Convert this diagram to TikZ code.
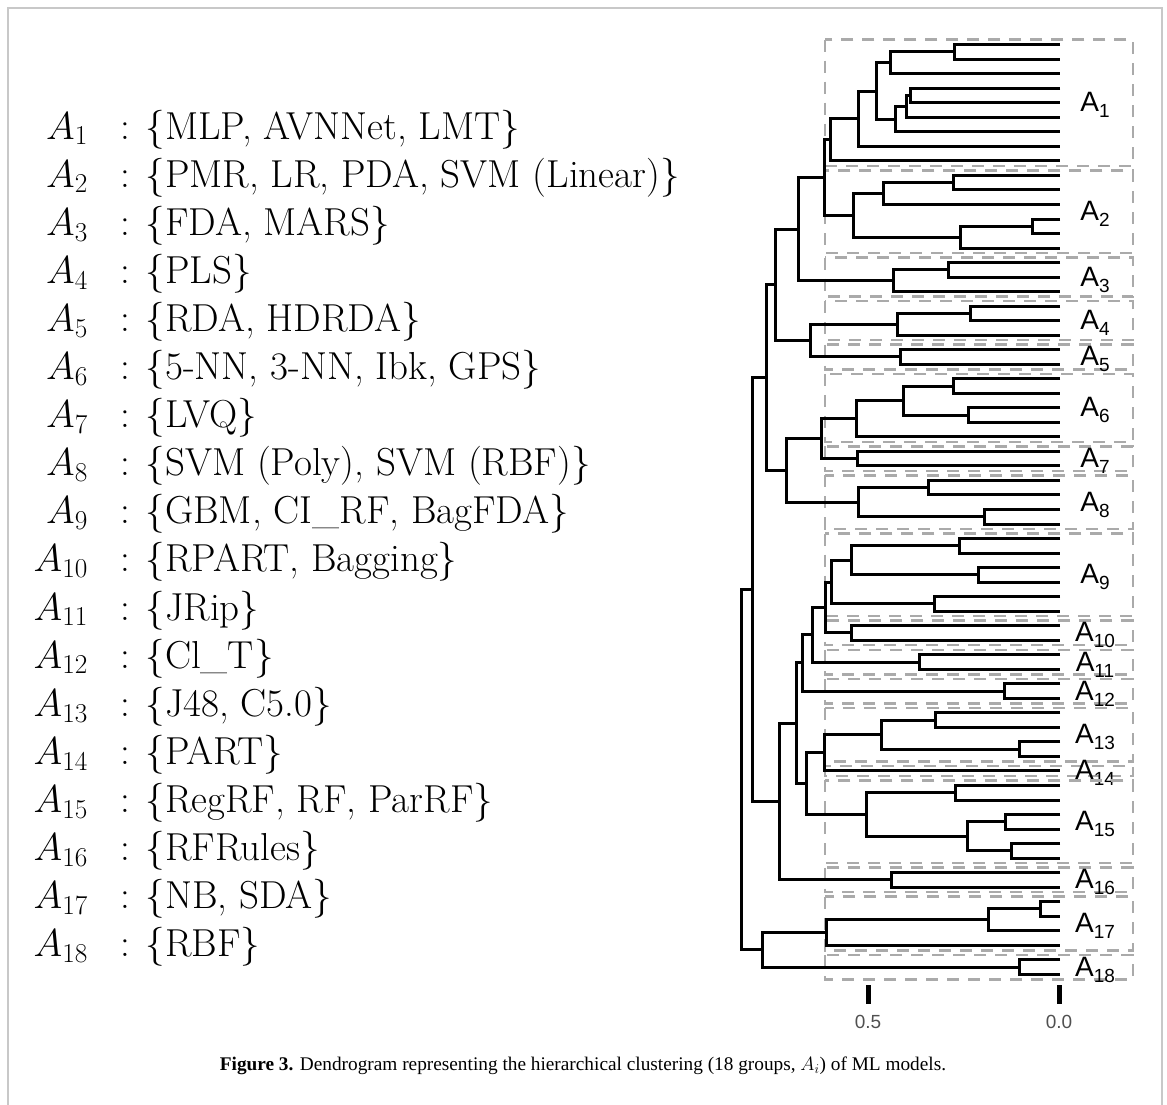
\RequirePackage{fix-cm}
\documentclass[tikz,border=0pt]{standalone}
\usepackage{fontspec}
\newfontfamily\grpfont{Liberation Sans}
\newfontfamily\capfont{Liberation Serif}
\usetikzlibrary{calc}

\definecolor{boxgray}{RGB}{170,170,170}
\definecolor{framegray}{RGB}{200,200,200}
\definecolor{axisgray}{RGB}{80,80,80}

% join two clusters at height #2
\newcommand{\merge}[4]{%
  \coordinate (mid) at ($(#3)!0.5!(#4)$);
  \coordinate (#1) at (#2,0 |- mid);
  \draw[branch] (#3) -| (#1) |- (#4);
}
% dashed box round leaves #2..#3 with label A_#1
\newcommand{\grpsub}[1]{\raisebox{-6pt}{\fontsize{19}{19}\selectfont #1}}
\newcommand{\grpbox}[3]{%
  \draw[grpline] ($(l#2)+(-235,-5)$) rectangle ($(l#3)+(73,5)$);
  \node[grplabel] (g#1) at ($(l#2)!0.5!(l#3)+(35,9)$) {A\grpsub{#1}};
}

\begin{document}
\begin{tikzpicture}[x=1pt, y=-1pt,
  branch/.style={line width=3pt, black},
  grpline/.style={line width=2.5pt, boxgray, dash pattern=on 12pt off 9pt},
  grplabel/.style={anchor=base, inner sep=0pt, font=\grpfont\fontsize{28}{28}\selectfont},
  tickmark/.style={line width=5pt, black},
  ticklabel/.style={inner sep=0pt, text=axisgray, font=\grpfont\fontsize{19}{19}\selectfont},
  rowlabel/.style={anchor=base east, inner sep=0pt, font=\fontsize{39}{45}\selectfont},
  rowtext/.style={anchor=base west, inner sep=0pt, font=\fontsize{39}{45}\selectfont},
  capstyle/.style={inner sep=0pt, font=\capfont\fontsize{19.3}{23}\selectfont}]

\useasboundingbox (0,0) rectangle (1167,1104);

% Frame
\draw[framegray, line width=2pt] (7.5,1120) -- (7.5,7.5) -- (1161.5,7.5) -- (1161.5,1120);

% Leaves
\foreach \i in {0,...,64}
  \coordinate (l\i) at (1060, {44.7+14.525*\i});

% Group boxes
\grpbox{1}{0}{8}
\grpbox{2}{9}{14}
\grpbox{3}{15}{17}
\grpbox{4}{18}{20}
\grpbox{5}{21}{22}
\grpbox{6}{23}{27}
\grpbox{7}{28}{29}
\grpbox{8}{30}{33}
\grpbox{9}{34}{39}
\grpbox{10}{40}{41}
\grpbox{11}{42}{43}
\grpbox{12}{44}{45}
\grpbox{13}{46}{49}
\grpbox{14}{50}{50}
\grpbox{15}{51}{56}
\grpbox{16}{57}{58}
\grpbox{17}{59}{62}
\grpbox{18}{63}{64}

% A1
\merge{a1}{954}{l0}{l1}
\merge{a2}{890.7}{a1}{l2}
\merge{a3}{910.7}{l3}{l4}
\merge{a4}{906.7}{a3}{l5}
\merge{a5}{895}{a4}{l6}
\merge{a6}{876.7}{a2}{a5}
\merge{a7}{858.3}{a6}{l7}
\merge{a8}{830}{a7}{l8}
% A2
\merge{b1}{953.3}{l9}{l10}
\merge{b2}{883.3}{b1}{l11}
\merge{b3}{1032.7}{l12}{l13}
\merge{b4}{960.7}{b3}{l14}
\merge{b5}{853.3}{b2}{b4}
\merge{c1}{824.3}{a8}{b5}
% A3
\merge{d1}{948.3}{l15}{l16}
\merge{d2}{893.3}{d1}{l17}
\merge{c2}{798.3}{c1}{d2}
% A4, A5
\merge{e1}{970.7}{l18}{l19}
\merge{e2}{897.7}{e1}{l20}
\merge{f1}{900}{l21}{l22}
\merge{e3}{810}{e2}{f1}
\merge{c3}{775.7}{c2}{e3}
% A6, A7, A8
\merge{g1}{953.3}{l23}{l24}
\merge{g2}{968.3}{l25}{l26}
\merge{g3}{903.3}{g1}{g2}
\merge{g4}{856}{g3}{l27}
\merge{h1}{857.7}{l28}{l29}
\merge{g5}{821.7}{g4}{h1}
\merge{i1}{928.3}{l30}{l31}
\merge{i2}{984.3}{l32}{l33}
\merge{i3}{858.3}{i1}{i2}
\merge{g6}{786.7}{g5}{i3}
\merge{c4}{766.7}{c3}{g6}
% A9 to A12
\merge{j1}{959}{l34}{l35}
\merge{j2}{978.3}{l36}{l37}
\merge{j3}{851}{j1}{j2}
\merge{j4}{934}{l38}{l39}
\merge{j5}{831.7}{j3}{j4}
\merge{k1}{851.7}{l40}{l41}
\merge{j6}{825}{j5}{k1}
\merge{m1}{919}{l42}{l43}
\merge{j7}{812.7}{j6}{m1}
\merge{n1}{1004.3}{l44}{l45}
\merge{j8}{802.7}{j7}{n1}
% A13 to A16
\merge{p1}{935}{l46}{l47}
\merge{p2}{1019.3}{l48}{l49}
\merge{p3}{881}{p1}{p2}
\merge{p4}{824.3}{p3}{l50}
\merge{q1}{955}{l51}{l52}
\merge{q2}{1005}{l53}{l54}
\merge{q3}{1011.7}{l55}{l56}
\merge{q4}{967.3}{q2}{q3}
\merge{q5}{866.7}{q1}{q4}
\merge{p5}{806.7}{p4}{q5}
\merge{j9}{796.7}{j8}{p5}
\merge{r1}{891}{l57}{l58}
\merge{j10}{779.3}{j9}{r1}
\merge{c5}{752.7}{c4}{j10}
% A17, A18
\merge{s1}{1040}{l59}{l60}
\merge{s2}{988.3}{s1}{l61}
\merge{s3}{826.7}{s2}{l62}
\merge{t1}{1019.3}{l63}{l64}
\merge{s4}{762.3}{s3}{t1}
% Root
\merge{root}{741.7}{c5}{s4}

% Axis
\draw[tickmark] (868,985) -- (868,1004);
\draw[tickmark] (1059,985) -- (1059,1004);
\node[ticklabel] (x05) at (868,1022) {0.5};
\node[ticklabel] (x00) at (1059,1022) {0.0};

% Groups list
\foreach \i/\txt in {1/{MLP, AVNNet, LMT}, 2/{PMR, LR, PDA, SVM (Linear)},
    3/{FDA, MARS}, 4/{PLS}, 5/{RDA, HDRDA}, 6/{5-NN, 3-NN, Ibk, GPS},
    7/{LVQ}, 8/{SVM (Poly), SVM (RBF)}, 9/{GBM, CI\_RF, BagFDA},
    10/{RPART, Bagging}, 11/{JRip}, 12/{Cl\_T}, 13/{J48, C5.0},
    14/{PART}, 15/{RegRF, RF, ParRF}, 16/{RFRules}, 17/{NB, SDA},
    18/{RBF}} {
  \node[rowlabel] (n\i) at (88, {139+48.1*(\i-1)}) {$A_{\i}$};
  \node[rowtext] (d\i) at (120, {139+48.1*(\i-1)}) {: \{\txt\}};
}

% Caption
\node[capstyle] (cap) at (583,1066) {\textbf{Figure 3.} Dendrogram representing the hierarchical clustering (18 groups, $A_i$) of ML models.};

\end{tikzpicture}
\end{document}
